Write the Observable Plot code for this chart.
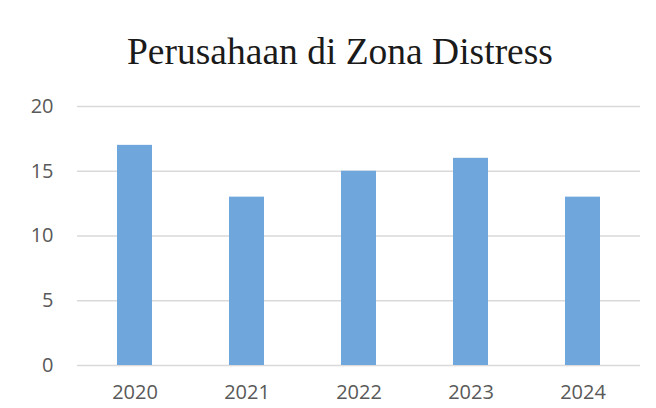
<!DOCTYPE html>
<html>
<head>
<meta charset="utf-8">
<script src="https://cdn.jsdelivr.net/npm/d3@7"></script>
<script src="https://cdn.jsdelivr.net/npm/@observablehq/plot@0.6"></script>
<style>
  html, body { margin: 0; padding: 0; background: #fff; }
  #wrap { width: 656px; height: 408px; overflow: hidden; }
  #title { height: 85px; box-sizing: border-box; padding-top: 30px; padding-left: 24px; text-align: center;
           font-family: "Liberation Serif", "Times New Roman", serif; font-size: 37.5px; color: #1a1a1a; line-height: 44px; white-space: nowrap; }
</style>
</head>
<body>
<div id="wrap">
  <div id="title">Perusahaan di Zona Distress</div>
  <div id="chart"></div>
</div>
<script>
const years = ["2020", "2021", "2022", "2023", "2024"];
const counts = [17, 13, 15, 16, 13];
const yTicks = [0, 5, 10, 15, 20];

const data = years.map((y, i) => ({year: y, value: counts[i]}));

const chart = Plot.plot({
  width: 656,
  height: 323,
  marginTop: 21,
  marginBottom: 43,
  marginLeft: 77,
  marginRight: 16,
  style: {fontFamily: "'Open Sans', sans-serif", fontSize: "20px", color: "#595959", background: "transparent"},
  x: {domain: years, label: null, paddingInner: 0.69, paddingOuter: 0.345, tickSize: 0, tickPadding: 19},
  y: {domain: [0, 20], ticks: yTicks, label: null, tickSize: 0, tickPadding: 24},
  marks: [
    Plot.gridY(yTicks, {stroke: "#d9d9d9", strokeOpacity: 1, strokeWidth: 1.3}),
    Plot.barY(data, {x: "year", y: "value", fill: "#6fa6db"}),
    Plot.axisX({tickSize: 0, tickPadding: 19, fill: "#595959"}),
    Plot.axisY({ticks: yTicks, tickSize: 0, tickPadding: 24, fill: "#595959"})
  ]
});
document.getElementById("chart").appendChild(chart);
</script>
</body>
</html>
